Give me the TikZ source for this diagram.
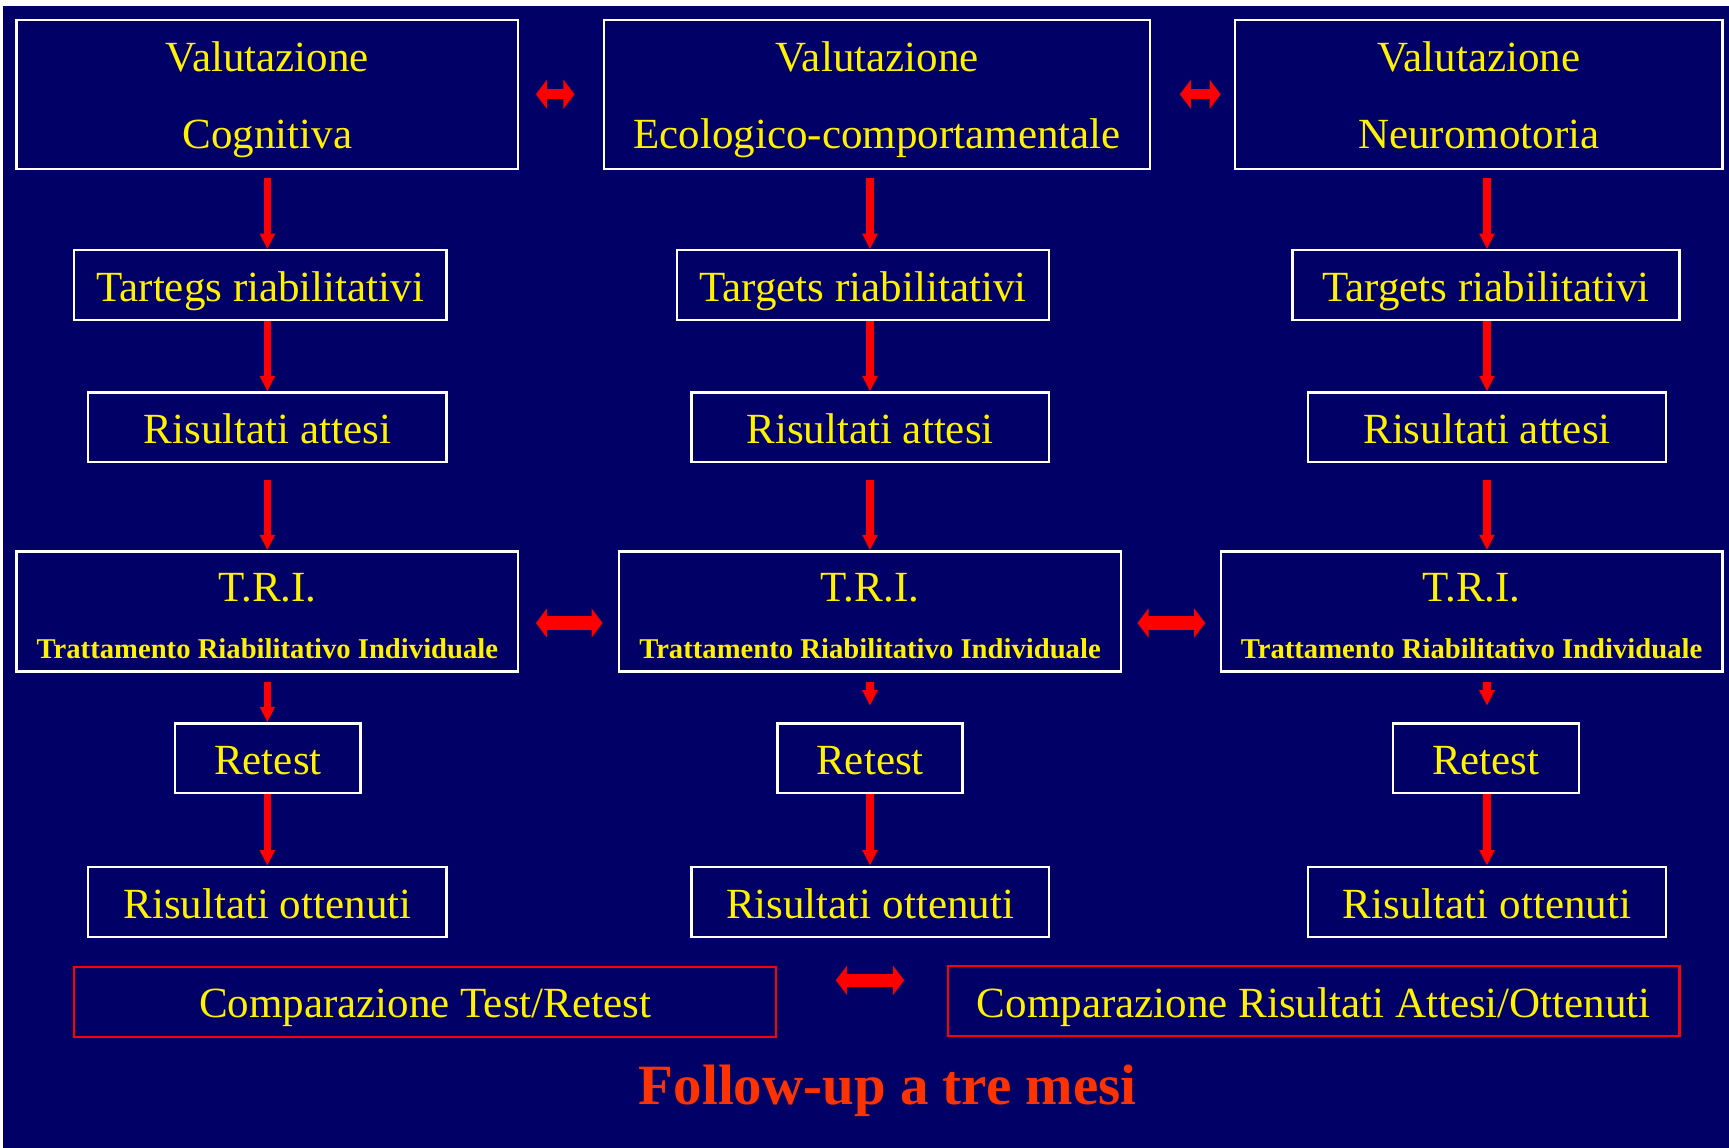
\documentclass[tikz,border=0pt]{standalone}
\usepackage{fontspec}
\setmainfont{Liberation Serif}
\usetikzlibrary{arrows.meta}
\definecolor{slidenavy}{RGB}{0,0,102}
\definecolor{titlered}{RGB}{255,51,0}
\tikzset{
  box/.style={draw=white,line width=0.6pt,text=yellow,inner sep=0pt,
    align=center,font=\fontsize{11.1}{13}\selectfont},
  valbox/.style={box,minimum height=1.35cm,text height=0.98cm,text depth=0pt,
    font=\fontsize{11.1}{19.9}\selectfont},
  tribox/.style={box,minimum width=4.55cm,minimum height=1.09cm,
    text height=0.85cm,text depth=0pt,font=\fontsize{11.1}{14.6}\selectfont},
  smallbox/.style={box,minimum height=0.63cm,text height=0.29cm,text depth=0pt},
  cmpbox/.style={smallbox,draw=red,minimum height=0.635cm},
  down/.style={draw=red,line width=2pt,-{Triangle[width=0.13cm,length=0.14cm]}},
  both/.style={draw=red,line width=3.4pt,
    {Triangle[width=0.26cm,length=0.1cm]}-{Triangle[width=0.26cm,length=0.1cm]}},
}
\begin{document}
\begin{tikzpicture}[y=-1cm]
  \useasboundingbox (0,0) rectangle (15.68,10.41);
  \fill[white] (0,0) rectangle (15.68,10.41);
  \fill[slidenavy] (0.03,0.055) rectangle (15.68,10.41);
  % valutazioni
  \node[valbox,minimum width=4.55cm] (v1) at (2.425,0.855) {Valutazione\\Cognitiva};
  \node[valbox,minimum width=4.95cm] (v2) at (7.955,0.855) {Valutazione\\Ecologico-comportamentale};
  \node[valbox,minimum width=4.42cm] (v3) at (13.41,0.855) {Valutazione\\Neuromotoria};
  % targets
  \node[smallbox,minimum width=3.38cm] (t1) at (2.36,2.585) {Tartegs riabilitativi};
  \node[smallbox,minimum width=3.37cm] (t2) at (7.825,2.585) {Targets riabilitativi};
  \node[smallbox,minimum width=3.51cm] (t3) at (13.475,2.585) {Targets riabilitativi};
  % risultati attesi
  \node[smallbox,minimum width=3.25cm] (r1) at (2.425,3.875) {Risultati attesi};
  \node[smallbox,minimum width=3.24cm] (r2) at (7.89,3.875) {Risultati attesi};
  \node[smallbox,minimum width=3.25cm] (r3) at (13.485,3.875) {Risultati attesi};
  % T.R.I.
  \node[tribox] (tri1) at (2.425,5.545)
    {T.R.I.\\{\bfseries\fontsize{7.4}{9}\selectfont Trattamento Riabilitativo Individuale}};
  \node[tribox] (tri2) at (7.89,5.545)
    {T.R.I.\\{\bfseries\fontsize{7.4}{9}\selectfont Trattamento Riabilitativo Individuale}};
  \node[tribox] (tri3) at (13.345,5.545)
    {T.R.I.\\{\bfseries\fontsize{7.4}{9}\selectfont Trattamento Riabilitativo Individuale}};
  % retest
  \node[smallbox,minimum width=1.68cm] (re1) at (2.43,6.875) {Retest};
  \node[smallbox,minimum width=1.68cm] (re2) at (7.89,6.875) {Retest};
  \node[smallbox,minimum width=1.69cm] (re3) at (13.475,6.875) {Retest};
  % risultati ottenuti
  \node[smallbox,minimum width=3.25cm,minimum height=0.64cm] (o1) at (2.425,8.18) {Risultati ottenuti};
  \node[smallbox,minimum width=3.24cm,minimum height=0.64cm] (o2) at (7.89,8.18) {Risultati ottenuti};
  \node[smallbox,minimum width=3.25cm,minimum height=0.64cm] (o3) at (13.485,8.18) {Risultati ottenuti};
  % comparazioni
  \node[cmpbox,minimum width=6.37cm] (c1) at (3.855,9.085) {Comparazione Test/Retest};
  \node[cmpbox,minimum width=6.63cm] (c2) at (11.915,9.08) {Comparazione Risultati Attesi/Ottenuti};
  \node[text=titlered,font=\bfseries\fontsize{14.7}{17}\selectfont] (fu) at (8.05,9.89)
    {Follow-up a tre mesi};
  % colonne
  \foreach \c in {1,2,3}{
    \draw[down,shorten <=0.07cm] (v\c.south -| r\c) -- (t\c.north -| r\c);
    \draw[down] (t\c.south -| r\c) -- (r\c.north);
    \draw[down,shorten <=0.15cm] (r\c.south) -- (tri\c.north -| r\c);
    \draw[down] (re\c.south -| r\c) -- (o\c.north -| r\c);
  }
  \draw[down,shorten <=0.08cm] (tri1.south -| r1) -- (re1.north -| r1);
  \draw[down,shorten <=0.08cm,shorten >=0.15cm] (tri2.south -| r2) -- (re2.north -| r2);
  \draw[down,shorten <=0.08cm,shorten >=0.15cm] (tri3.south -| r3) -- (re3.north -| r3);
  % frecce doppie
  \draw[both,line width=2.6pt,shorten <=0.15cm,shorten >=0.26cm] (v1.east) -- (v2.west);
  \draw[both,line width=2.6pt,shorten <=0.26cm,shorten >=0.12cm] (v2.east) -- (v3.west);
  \draw[both,shorten <=0.15cm,shorten >=0.14cm]
    ([yshift=-0.105cm]tri1.east) -- ([yshift=-0.105cm]tri2.west);
  \draw[both,shorten <=0.14cm,shorten >=0.13cm]
    ([yshift=-0.105cm]tri2.east) -- ([yshift=-0.105cm]tri3.west);
  \draw[both,shorten <=0.53cm,shorten >=0.39cm]
    ([yshift=0.195cm]c1.east) -- ([yshift=0.19cm]c2.west);
\end{tikzpicture}
\end{document}
